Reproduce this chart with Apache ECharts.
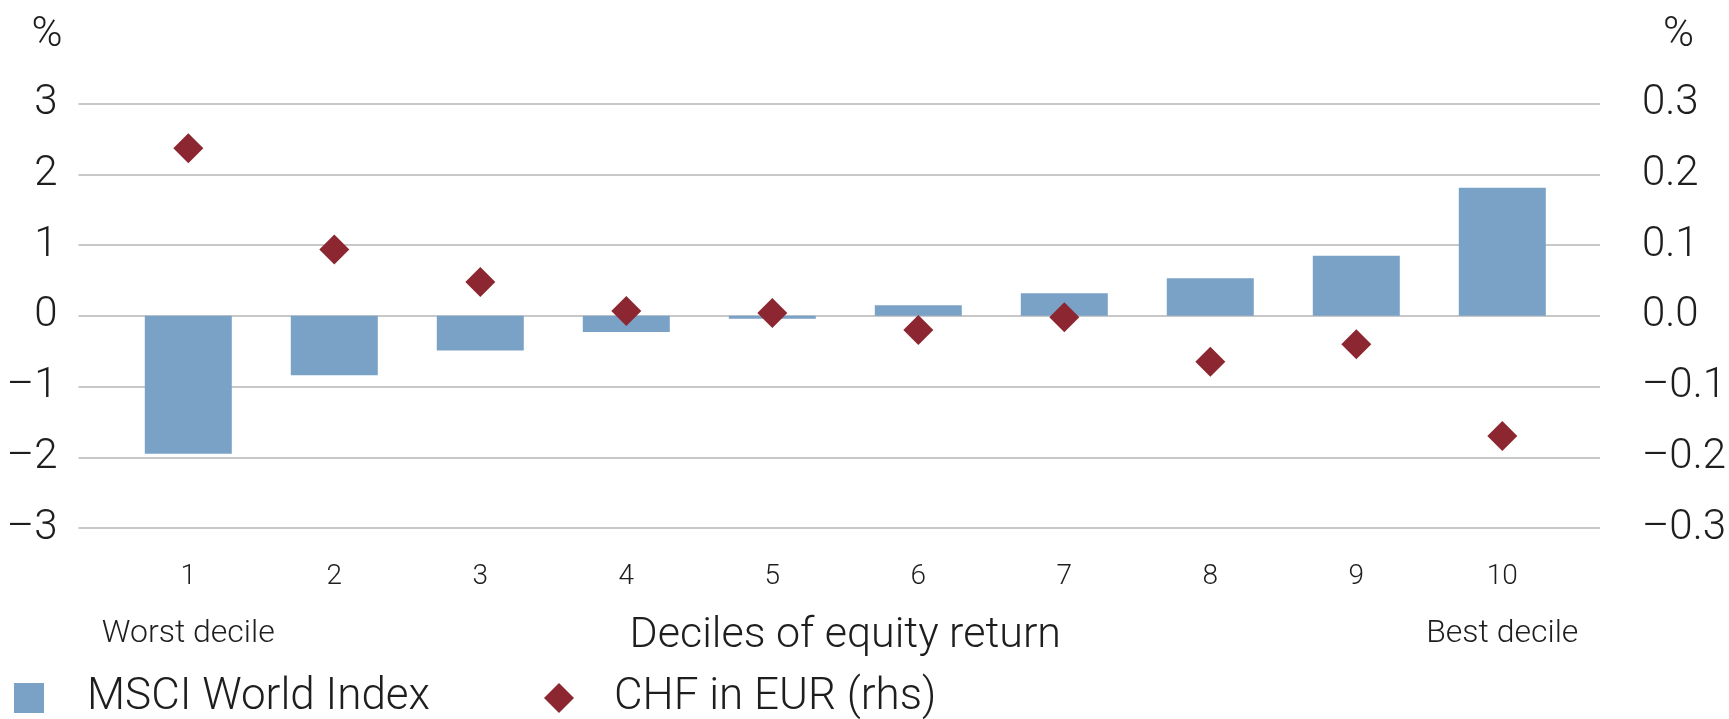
<!DOCTYPE html>
<html lang="en">
    <head>
        <meta charset="utf-8">
        <script src="https://cdn.jsdelivr.net/npm/echarts@6.0.0/dist/echarts.min.js"></script>
        <title>Deciles of equity return</title>
        <style>
            html, body { margin: 0; padding: 0; background: #fff; }
            #main { width: 1729px; height: 719px; }
        </style>
    </head>
<body>
    <div id="main"></div>
    <script>
        // data
        var deciles = ['1', '2', '3', '4', '5', '6', '7', '8', '9', '10'];
        var msciWorld = [-1.95, -0.84, -0.49, -0.23, -0.04, 0.15, 0.32, 0.53, 0.85, 1.81];
        var chfInEur = [0.237, 0.094, 0.048, 0.007, 0.004, -0.020, -0.002, -0.065, -0.040, -0.170];
        var leftTicks = { min: -3, max: 3, interval: 1 };
        var rightTicks = { min: -0.3, max: 0.3, interval: 0.1 };

        var font = 'Roboto';
        var ink = '#1e1e1e';

        function dash(s) {
            return s.replace('-', '\u2013');
        }

        var myChart = echarts.init(document.getElementById('main'));

        var option = {
            animation: false,
            backgroundColor: '#fff',
            textStyle: { fontFamily: font, fontWeight: 300, color: ink },
            // grid 0 carries the split lines and the two scales, grid 1 the marks
            grid: [
                { left: 78.5, right: 117, top: 103.7, bottom: 191 },
                { left: 115.3, right: 153.7, top: 103.7, bottom: 191 }
            ],
            xAxis: [
                { gridIndex: 0, type: 'category', data: deciles, show: false },
                {
                    gridIndex: 1,
                    type: 'category',
                    data: deciles,
                    axisLine: { show: false },
                    axisTick: { show: false },
                    axisLabel: {
                        margin: 29,
                        formatter: function (v, i) {
                            if (i === 0) return '{n|' + v + '}\n{d|Worst decile}';
                            if (i === deciles.length - 1) return '{n|' + v + '}\n{d|Best decile}';
                            return '{n|' + v + '}';
                        },
                        rich: {
                            n: { fontFamily: font, fontWeight: 300, fontSize: 28, lineHeight: 40, color: ink },
                            d: { fontFamily: font, fontWeight: 300, fontSize: 32, lineHeight: 74, color: ink }
                        }
                    },
                    name: 'Deciles of equity return',
                    nameLocation: 'middle',
                    nameGap: 87,
                    nameMoveOverlap: false,
                    nameTextStyle: { fontFamily: font, fontWeight: 300, fontSize: 43, color: ink }
                }
            ],
            yAxis: [
                {
                    gridIndex: 0,
                    type: 'value',
                    position: 'left',
                    min: leftTicks.min,
                    max: leftTicks.max,
                    interval: leftTicks.interval,
                    axisLine: { show: false },
                    axisTick: { show: false },
                    splitLine: { lineStyle: { color: '#c8c8c8', width: 2 } },
                    axisLabel: {
                        margin: 21,
                        fontSize: 42,
                        color: ink,
                        formatter: function (v) { return dash(String(v)); }
                    },
                    name: '%',
                    nameLocation: 'end',
                    nameGap: 68,
                    nameTextStyle: { fontSize: 42, color: ink, align: 'right', verticalAlign: 'middle', padding: [0, 16, 0, 0] }
                },
                {
                    gridIndex: 0,
                    type: 'value',
                    position: 'right',
                    min: rightTicks.min,
                    max: rightTicks.max,
                    interval: rightTicks.interval,
                    axisLine: { show: false },
                    axisTick: { show: false },
                    splitLine: { show: false },
                    axisLabel: {
                        margin: 42,
                        fontSize: 42,
                        color: ink,
                        formatter: function (v) {
                            if (Math.abs(v) < 1e-9) return '0.0';
                            return dash(v.toFixed(1));
                        }
                    },
                    name: '%',
                    nameLocation: 'end',
                    nameGap: 68,
                    nameTextStyle: { fontSize: 42, color: ink, align: 'left', verticalAlign: 'middle', padding: [0, 0, 0, 63] }
                },
                { gridIndex: 1, type: 'value', min: leftTicks.min, max: leftTicks.max, show: false },
                { gridIndex: 1, type: 'value', min: rightTicks.min, max: rightTicks.max, show: false }
            ],
            legend: [
                {
                    left: 14, top: 676, padding: 0,
                    itemWidth: 30, itemHeight: 30,
                    data: [{ name: 'MSCI World Index', icon: 'rect' }],
                    textStyle: { fontFamily: font, fontWeight: 300, fontSize: 44, lineHeight: 44, color: ink, padding: [0, 0, 0, 38] }
                },
                {
                    left: 544, top: 676, padding: 0,
                    itemWidth: 30, itemHeight: 30,
                    data: [{ name: 'CHF in EUR (rhs)', icon: 'diamond' }],
                    textStyle: { fontFamily: font, fontWeight: 300, fontSize: 44, lineHeight: 44, color: ink, padding: [0, 0, 0, 35] }
                }
            ],
            series: [
                {
                    name: 'MSCI World Index',
                    type: 'bar',
                    xAxisIndex: 1,
                    yAxisIndex: 2,
                    data: msciWorld,
                    barWidth: 87,
                    itemStyle: { color: '#7aa2c6' }
                },
                {
                    name: 'CHF in EUR (rhs)',
                    type: 'scatter',
                    xAxisIndex: 1,
                    yAxisIndex: 3,
                    data: chfInEur,
                    symbol: 'diamond',
                    symbolSize: 30,
                    itemStyle: { color: '#8c2731', opacity: 1 },
                    z: 3
                }
            ]
        };
        myChart.setOption(option);
    </script>
</body>
</html>
